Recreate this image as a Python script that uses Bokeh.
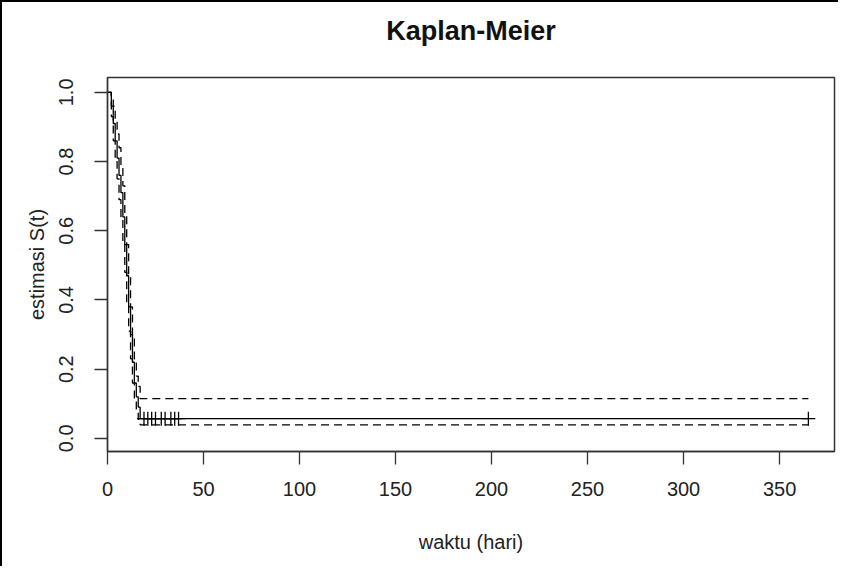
import numpy as np
from bokeh.plotting import figure
from bokeh.models import FixedTicker, Range1d, Title
from bokeh.embed import file_html
from bokeh.resources import INLINE

# ---- data ----
event_times = [0, 2, 3, 4, 5, 6, 7, 8, 9, 10, 11, 12, 13, 14, 15, 16, 17]
surv = [1.0, 0.96, 0.91, 0.86, 0.81, 0.76, 0.71, 0.64, 0.56, 0.47, 0.38, 0.30, 0.22, 0.16, 0.12, 0.09, 0.057]
upper = [1.0, 0.99, 0.96, 0.92, 0.88, 0.84, 0.79, 0.73, 0.65, 0.56, 0.47, 0.38, 0.29, 0.23, 0.18, 0.15, 0.115]
lower = [1.0, 0.93, 0.86, 0.80, 0.75, 0.69, 0.64, 0.56, 0.48, 0.39, 0.31, 0.23, 0.16, 0.11, 0.08, 0.055, 0.039]
censor_times = [19, 21, 23, 25, 28, 30, 33, 35, 37, 365]
end_time = 365

x_ticks = [0, 50, 100, 150, 200, 250, 300, 350]
y_ticks = [0.0, 0.2, 0.4, 0.6, 0.8, 1.0]

title_text = "Kaplan-Meier"
x_label = "waktu (hari)"
y_label = "estimasi S(t)"

# step series extended to the last follow-up time
tx = event_times + [end_time]
s_y = surv + [surv[-1]]
u_y = upper + [upper[-1]]
l_y = lower + [lower[-1]]

# survival value at each censoring time (step lookup)
idx = np.searchsorted(np.array(event_times), np.array(censor_times), side="right") - 1
censor_s = [surv[i] for i in idx]

FONT = "Liberation Sans"
TXT = "#222222"

p = figure(width=838, height=566, output_backend="svg", toolbar_location=None,
           title=None,
           x_range=Range1d(0, 378.6), y_range=Range1d(-0.038, 1.043),
           min_border_left=105, min_border_right=6, min_border_top=75, min_border_bottom=117)
p.styles = {"border-top": "2px solid #000000", "border-left": "2px solid #000000"}

p.step(tx, s_y, mode="after", line_color="black", line_width=1.3)
p.step(tx, u_y, mode="after", line_color="black", line_width=1.3, line_dash="8 5")
p.step(tx, l_y, mode="after", line_color="black", line_width=1.3, line_dash="8 5")
p.scatter(censor_times, censor_s, marker="cross", size=14, line_color="black", line_width=1.3)

p.grid.visible = False
p.outline_line_color = "#333333"
p.outline_line_width = 1.5
p.background_fill_color = "white"
p.border_fill_color = "white"

# title; a trailing empty line lifts it higher above the frame
p.add_layout(Title(text=title_text + "\n", align="center", text_font=FONT, text_font_size="27px",
                   text_font_style="bold", text_color="#111111", standoff=4), "above")

for ax in (p.xaxis[0], p.yaxis[0]):
    ax.axis_line_color = "#333333"
    ax.axis_line_width = 1.3
    ax.major_tick_line_color = "#333333"
    ax.major_tick_line_width = 1.3
    ax.major_tick_out = 13
    ax.major_tick_in = 0
    ax.minor_tick_line_color = None
    ax.major_label_text_font = FONT
    ax.major_label_text_font_size = "20px"
    ax.major_label_text_color = TXT
    ax.axis_label_text_font = FONT
    ax.axis_label_text_font_size = "20px"
    ax.axis_label_text_font_style = "normal"
    ax.axis_label_text_color = TXT

p.xaxis[0].ticker = FixedTicker(ticks=x_ticks)
p.xaxis[0].axis_label = x_label
p.xaxis[0].major_label_standoff = 17
p.xaxis[0].axis_label_standoff = 32

p.yaxis[0].ticker = FixedTicker(ticks=y_ticks)
p.yaxis[0].major_label_overrides = {t: f"{t:.1f}" for t in y_ticks}
p.yaxis[0].major_label_orientation = "vertical"
p.yaxis[0].axis_label = y_label
p.yaxis[0].major_label_standoff = 21
p.yaxis[0].axis_label_standoff = 9

open("out.html", "w").write(file_html(p, INLINE))
